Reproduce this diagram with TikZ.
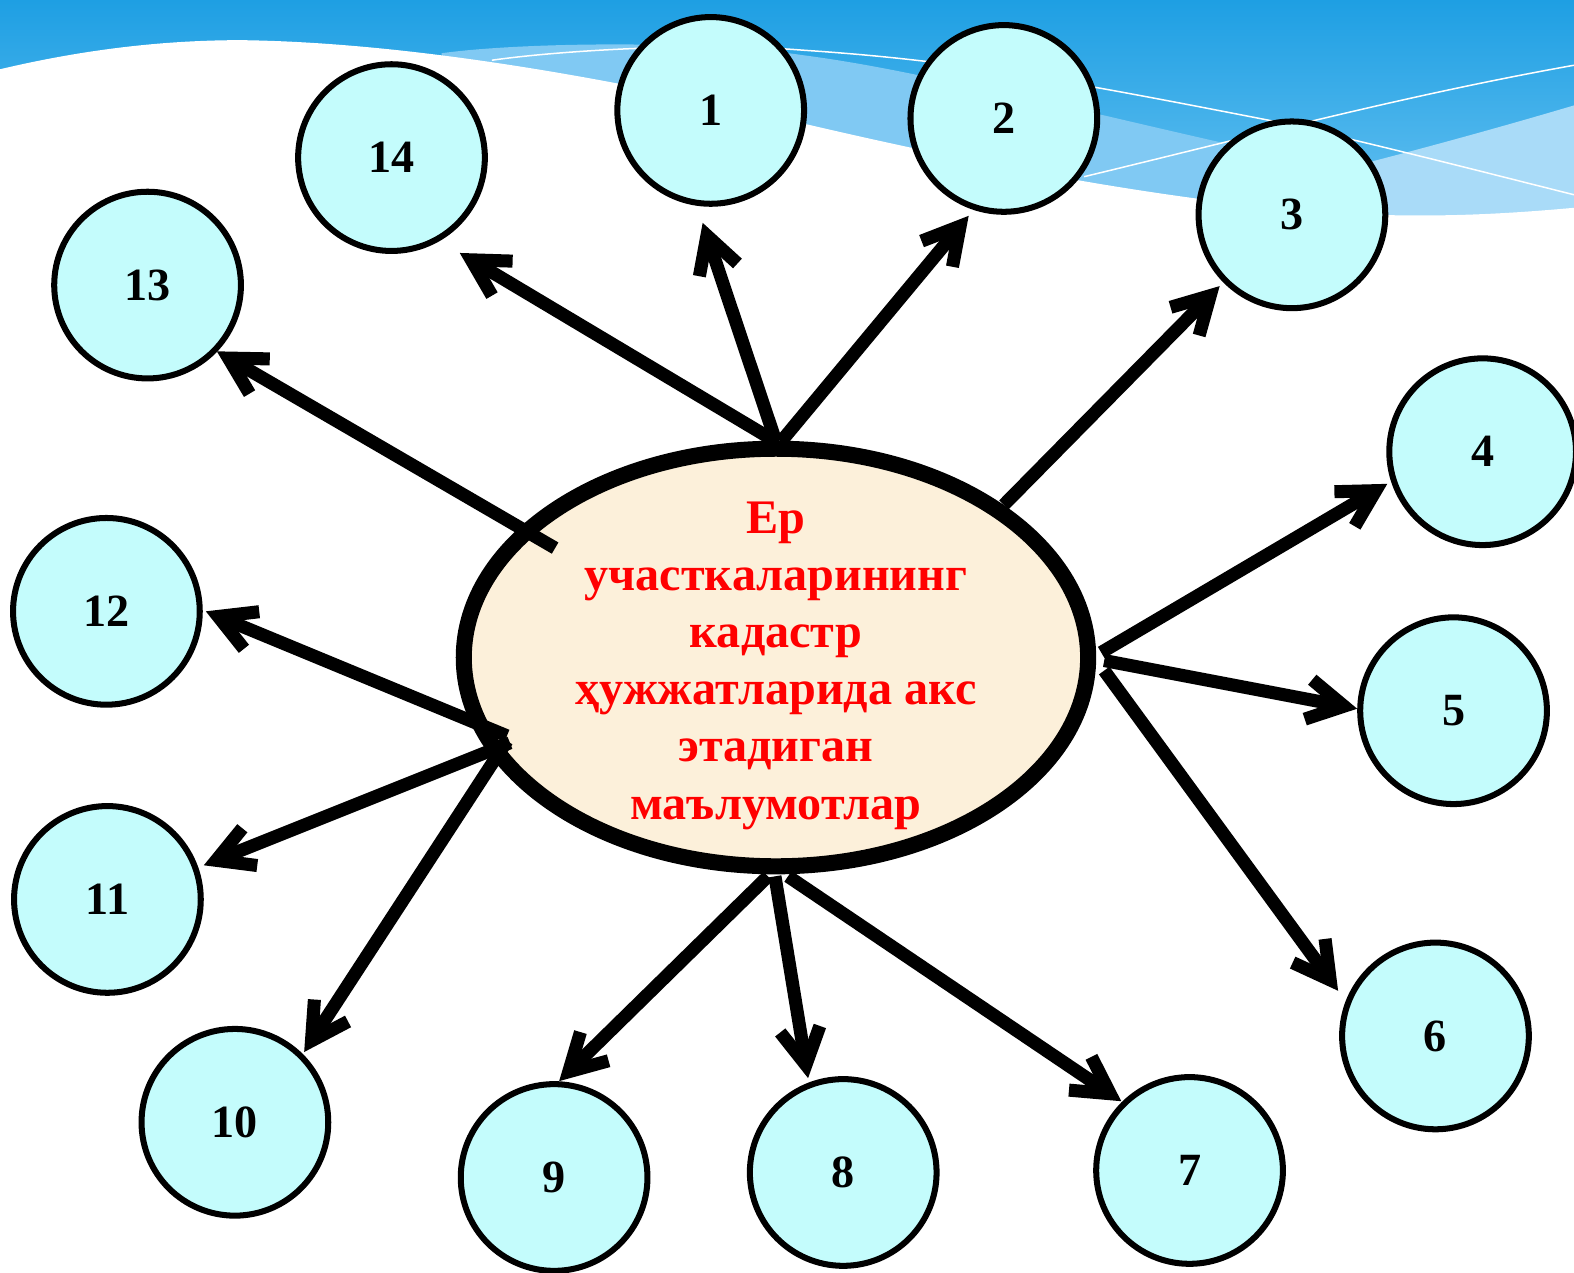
\documentclass[tikz,border=0pt]{standalone}
\usepackage{fontspec}
\setmainfont{Liberation Serif}
\usetikzlibrary{arrows.meta,shapes.geometric}
\definecolor{bgtop}{HTML}{1E9FE3}
\definecolor{bgbot}{HTML}{6CC4F2}
\definecolor{bandA}{HTML}{80C9F3}
\definecolor{bandB}{HTML}{A9DBF8}
\definecolor{cfill}{HTML}{C4FCFC}
\definecolor{efill}{HTML}{FCF0DA}
\definecolor{tred}{HTML}{FF0000}
\tikzset{
  num/.style={circle, draw=black, line width=6pt, fill=cfill, minimum size=186pt, inner sep=0pt,
    font=\fontsize{46}{50}\selectfont\bfseries},
  arr/.style={line width=13pt, -{Straight Barb[length=36pt,width=40pt]}},
}
\begin{document}
\begin{tikzpicture}[x=1pt,y=-1pt]
\useasboundingbox (0,0) rectangle (1568,1268);
% background
\shade[top color=bgtop, bottom color=bgbot] (0,0) rectangle (1568,240);
\fill[bandA] (440,53) .. controls (520,42) and (700,40) .. (800,55) .. controls (900,68) and (1000,95) .. (1100,115) .. controls (1250,150) and (1400,185) .. (1568,210) -- (1568,250) -- (440,250) -- cycle;
\fill[bandB] (1180,205) .. controls (1300,180) and (1450,140) .. (1568,105) -- (1568,250) -- (1180,250) -- cycle;
\fill[white] (0,69) .. controls (80,50) and (160,40) .. (240,40) .. controls (400,42) and (600,75) .. (800,123) .. controls (950,158) and (1100,188) .. (1250,205) .. controls (1380,220) and (1480,215) .. (1568,207) -- (1568,260) -- (0,260) -- cycle;
\draw[white, line width=1.5pt] (490,60) .. controls (560,50) and (700,42) .. (800,50) .. controls (950,60) and (1050,78) .. (1265,120) .. controls (1380,146) and (1480,172) .. (1568,194);
\draw[white, line width=1.5pt] (1080,176) .. controls (1250,135) and (1400,95) .. (1568,65);

% central ellipse
\node[ellipse, draw=black, line width=16pt, fill=efill, minimum width=622pt, minimum height=416pt, inner sep=0pt] (E) at (773,655) {};
\node[align=center, inner sep=0pt, text=tred, font=\fontsize{48}{57}\selectfont\bfseries] (T) at (773,663)
  {Ер\\участкаларининг\\кадастр\\ҳужжатларида акс\\этадиган\\маълумотлар};

% circles
\node[num] (c1) at (708,110) {1};
\node[num] (c2) at (1000,118) {2};
\node[num] (c3) at (1287,214) {3};
\node[num] (c4) at (1477,450) {4};
\node[num] (c5) at (1448,708) {5};
\node[num] (c6) at (1430,1032) {6};
\node[num] (c7) at (1185,1166) {7};
\node[num] (c8) at (840,1168) {8};
\node[num] (c9) at (552,1173) {9};
\node[num] (c10) at (234,1118) {10};
\node[num] (c11) at (107,896) {11};
\node[num] (c12) at (106,609) {12};
\node[num] (c13) at (147,284) {13};
\node[num] (c14) at (390,157) {14};

% arrow end points
\coordinate (s1) at (773,440);  \coordinate (t1) at (700,222);
\coordinate (s2) at (778,440);  \coordinate (t2) at (965,215);
\coordinate (s3) at (1000,503); \coordinate (t3) at (1215,285);
\coordinate (s4) at (1097,650); \coordinate (t4) at (1382,482);
\coordinate (s5) at (1100,658); \coordinate (t5) at (1352,706);
\coordinate (s6) at (1100,668); \coordinate (t6) at (1333,987);
\coordinate (s7) at (785,873);  \coordinate (t7) at (1117,1097);
\coordinate (s8) at (772,873);  \coordinate (t8) at (805,1074);
\coordinate (s9) at (765,873);  \coordinate (t9) at (557,1077);
\coordinate (s10) at (505,738); \coordinate (t10) at (303,1048);
\coordinate (s11) at (508,740); \coordinate (t11) at (203,862);
\coordinate (s12) at (505,733); \coordinate (t12) at (205,609);
\coordinate (s13) at (553,546); \coordinate (t13) at (216,350);
\coordinate (s14) at (773,440); \coordinate (t14) at (458,252);

\foreach \i in {1,...,14} { \draw[arr] (s\i) -- (t\i); }
\end{tikzpicture}
\end{document}
